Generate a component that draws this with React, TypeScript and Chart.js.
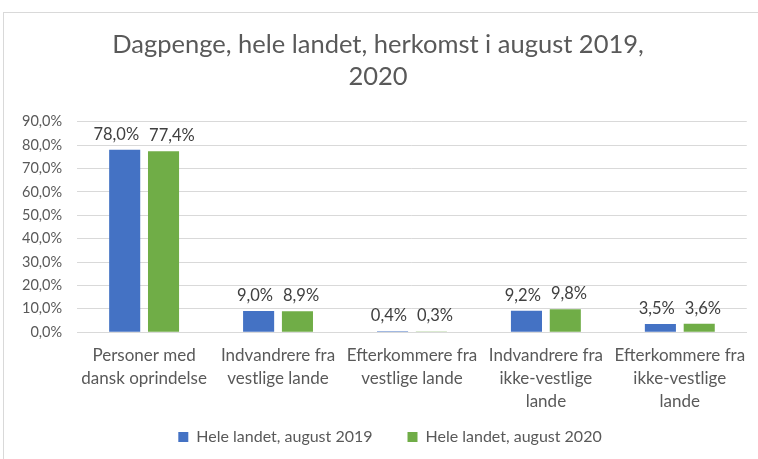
import React, { useEffect, useRef } from "react";
import { Chart, registerables } from "chart.js";

Chart.register(...registerables);

const categories: string[][] = [
  ["Personer med", "dansk oprindelse"],
  ["Indvandrere fra", "vestlige lande"],
  ["Efterkommere fra", "vestlige lande"],
  ["Indvandrere fra", "ikke-vestlige", "lande"],
  ["Efterkommere fra", "ikke-vestlige", "lande"],
];
const series2019: number[] = [78.0, 9.0, 0.4, 9.2, 3.5];
const series2020: number[] = [77.4, 8.9, 0.3, 9.8, 3.6];
const seriesNames: string[] = ["Hele landet, august 2019", "Hele landet, august 2020"];
const titleLines: string[] = ["Dagpenge, hele landet, herkomst i august 2019,", "2020"];

const FONT = "Lato, 'Noto Sans', sans-serif";
const fmt = (v: number) => v.toFixed(1).replace(".", ",") + "%";

const labelPlugin = {
  id: "barLabels",
  afterDatasetsDraw(chart: any) {
    const ctx = chart.ctx;
    ctx.save();
    ctx.font = `16.5px ${FONT}`;
    ctx.fillStyle = "#404040";
    ctx.textAlign = "center";
    ctx.textBaseline = "alphabetic";
    const m0 = chart.getDatasetMeta(0);
    const m1 = chart.getDatasetMeta(1);
    const d0 = chart.data.datasets[0].data;
    const d1 = chart.data.datasets[1].data;
    m0.data.forEach((b0: any, j: number) => {
      const b1 = m1.data[j];
      const t0 = fmt(d0[j]);
      const t1 = fmt(d1[j]);
      const w0 = ctx.measureText(t0).width;
      const w1 = ctx.measureText(t1).width;
      let x0 = b0.x;
      let x1 = b1.x;
      const gap = 10;
      const overlap = x0 + w0 / 2 + gap - (x1 - w1 / 2);
      if (overlap > 0) {
        x0 -= overlap / 2;
        x1 += overlap / 2;
      }
      ctx.fillText(t0, x0, b0.y - 10);
      ctx.fillText(t1, x1, b1.y - 10);
    });
    ctx.restore();
  },
};

// Legend spacing between items is wide, so the built-in box gets taller; move it up
const legendShift = {
  id: "legendShift",
  afterLayout(chart: any) {
    const l = chart.legend;
    if (l) {
      l.top -= 31;
      l.bottom = chart.height;
      l.height = l.bottom - l.top;
      l.left += 12;
      l.right += 12;
    }
  },
};

export default function App() {
  const ref = useRef<HTMLCanvasElement>(null);
  useEffect(() => {
    document.body.style.margin = "0";
    const chart = new Chart(ref.current!, {
      type: "bar",
      data: {
        labels: categories,
        datasets: [
          { label: seriesNames[0], data: series2019, backgroundColor: "#4472C4" },
          { label: seriesNames[1], data: series2020, backgroundColor: "#70AD47" },
        ],
      },
      options: {
        animation: false,
        responsive: false,
        maintainAspectRatio: false,
        datasets: { bar: { categoryPercentage: 0.58, barPercentage: 0.8 } },
        layout: { padding: { left: 3, right: 9, top: 0, bottom: 0 } },
        plugins: {
          title: {
            display: true,
            text: titleLines,
            color: "#595959",
            font: { family: FONT, size: 25.5, weight: "normal", lineHeight: 1.25 },
            padding: { top: 16, bottom: 29 },
          },
          legend: {
            position: "bottom",
            maxHeight: 34,
            labels: {
              color: "#595959",
              font: { family: FONT, size: 16 },
              boxWidth: 10,
              boxHeight: 10,
              padding: 35,
            },
          },
          tooltip: { enabled: false },
        },
        scales: {
          x: {
            grid: { display: false, drawTicks: false },
            border: { color: "#d9d9d9" },
            ticks: {
              color: "#595959",
              font: { family: FONT, size: 17, lineHeight: 1.35 },
              maxRotation: 0,
              autoSkip: false,
              padding: 12,
            },
          },
          y: {
            min: 0,
            max: 90,
            grid: { color: "#d9d9d9", drawTicks: false },
            border: { display: false },
            ticks: {
              stepSize: 10,
              color: "#595959",
              font: { family: FONT, size: 14.5 },
              padding: 15,
              callback: (v: any) => fmt(Number(v)),
            },
          },
        },
      },
      plugins: [labelPlugin, legendShift],
    });
    return () => chart.destroy();
  }, []);
  return (
    <div style={{ position: "relative", width: 758, height: 459, background: "#fff", overflow: "hidden" }}>
      <div
        style={{
          position: "absolute",
          left: 3,
          top: 12,
          width: 800,
          height: 500,
          border: "1px solid #d9d9d9",
          boxSizing: "border-box",
        }}
      />
      <canvas ref={ref} width={754} height={446} style={{ position: "absolute", left: 4, top: 13 }} />
    </div>
  );
}
